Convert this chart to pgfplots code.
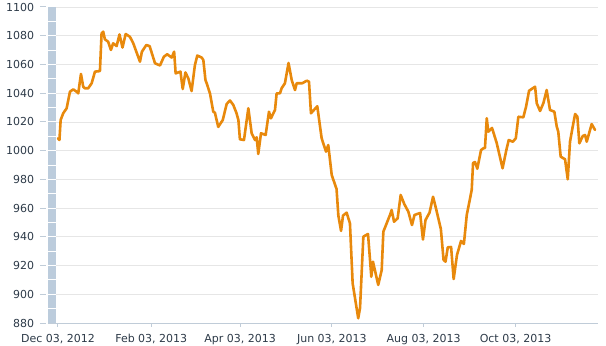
\documentclass[border=0pt]{standalone}
\usepackage{pgfplots}
\pgfplotsset{compat=1.18}
\usepackage{fontspec}
\setmainfont{DejaVu Sans}
\definecolor{lineor}{RGB}{232,137,12}
\definecolor{bandc}{RGB}{188,204,220}
\definecolor{gridc}{RGB}{230,230,230}
\definecolor{tickc}{RGB}{192,204,216}
\definecolor{labc}{RGB}{45,58,72}
\begin{document}
\begin{tikzpicture}[font=\fontsize{11bp}{13bp}\selectfont]
\begin{axis}[
  name=ax, scale only axis, width=550bp, height=316bp,
  xmin=-6.6, xmax=358.8, ymin=880, ymax=1100,
  axis x line*=bottom, axis y line*=left,
  y axis line style={draw=none},
  x axis line style={draw=tickc, line width=1bp},
  ytick={880,900,...,1100},
  xtick={0,62,121,182,243,304},
  xticklabels={{Dec 03, 2012},{Feb 03, 2013},{Apr 03, 2013},{Jun 03, 2013},{Aug 03, 2013},{Oct 03, 2013}},
  ymajorgrids, grid style={draw=gridc, line width=0.8bp},
  major tick length=0pt,
  tick label style={text=labc, inner sep=0pt},
  yticklabel style={anchor=east, xshift=-13.7bp},
  xticklabel style={anchor=north, yshift=-11bp},
  /pgf/number format/assume math mode=true,
  /pgf/number format/1000 sep={},
  clip mode=individual,
]
\fill[bandc] (axis cs:-6.6,880) rectangle (axis cs:-1.3,1100);
\pgfplotsinvokeforeach{890,900,...,1090}{
  \draw[white, line width=0.9bp] (axis cs:-6.6,#1) -- (axis cs:-1.3,#1);
}
\pgfplotsinvokeforeach{880,900,...,1100}{
  \draw[tickc, line width=1bp] ([xshift=-8bp]axis cs:-6.6,#1) -- ([xshift=-2bp]axis cs:-6.6,#1);
}
\pgfplotsinvokeforeach{0,62,121,182,243,304}{
  \draw[tickc, line width=1bp] (axis cs:#1,880) -- ([yshift=-4bp]axis cs:#1,880);
}
\addplot[lineor, line width=2.6bp, line join=round, line cap=round] coordinates {
(0,1008.6) (1,1007.4) (1.8,1021.3) (3.5,1026.0) (5.8,1029.5) (8.0,1041.0) (10.2,1042.7)
(12.4,1041.0) (13.5,1039.9) (15.3,1053.4) (16.8,1044.5) (17.9,1043.4) (20.1,1043.4)
(22.4,1046.9) (24.6,1055.0) (27.9,1055.4) (29.0,1081.7) (30.1,1082.8) (31.2,1077.5)
(33.4,1075.8) (35.2,1070.1) (36.7,1074.7) (39.0,1072.8) (40.9,1080.9) (42.9,1071.8)
(45.0,1081.2) (47.8,1079.3) (50.0,1074.9) (54.5,1061.9) (55.8,1068.9) (58.7,1073.5)
(60.9,1072.8) (64.5,1060.8) (67.8,1059.3) (70.4,1065.4) (72.6,1067.1) (75.6,1064.8)
(77.2,1068.9) (78.2,1053.8) (81.4,1055.0) (82.9,1042.9) (84.7,1054.4) (86.6,1050.4)
(88.8,1041.5) (91.0,1059.6) (92.6,1066.2) (95.5,1064.8) (96.6,1063.1) (98.0,1049.2)
(98.8,1046.9) (101.0,1039.9) (103.2,1027.1) (104.3,1026.4) (106.5,1016.5) (109.5,1021.3)
(112.1,1032.5) (114.3,1034.9) (116.5,1031.8) (118.6,1026.2) (119.9,1021.3) (120.9,1007.9)
(123.6,1007.4) (126.5,1029.5) (128.7,1012.1) (130.9,1007.4) (132.0,1009.3) (133.1,997.7)
(134.9,1012.1) (138.0,1010.9) (140.2,1027.1) (141.5,1022.5) (144.2,1028.3) (145.3,1039.9)
(147.5,1039.9) (148.6,1043.4) (150.8,1046.9) (153.2,1061.0) (155.3,1049.2) (157.5,1042.2)
(158.6,1046.9) (162.3,1046.9) (165.3,1048.7) (166.8,1048.0) (168.1,1026.0) (172.3,1030.9)
(175.2,1008.6) (178.1,999.3) (179.6,1003.9) (181.9,983.0) (185.1,973.3) (186.3,954.8)
(188.1,944.1) (189.4,954.8) (191.8,956.8) (194.0,949.4) (195.8,907.6) (199.5,883.3)
(200.7,890.4) (202.9,940.1) (206.0,942.0) (208.2,912.2) (209.3,922.7) (212.8,906.5)
(215.1,916.9) (216.2,943.6) (220.6,955.2) (221.7,958.7) (223.3,950.5) (225.7,952.9)
(227.7,969.1) (230.1,962.8) (232.8,957.5) (235.2,948.2) (236.9,955.2) (240.6,956.6)
(242.5,938.1) (244.2,951.7) (246.9,956.9) (249.2,967.9) (251.4,958.7) (254.4,945.4)
(256.2,923.9) (257.5,922.7) (259.0,932.7) (261.2,932.9) (262.9,910.6) (265.1,927.3)
(267.8,937.1) (269.7,935.0) (271.6,955.2) (274.9,972.6) (275.8,991.4) (277.1,992.1)
(278.6,987.4) (281.1,1000.4) (282.6,1001.6) (283.7,1001.8) (284.9,1022.5) (285.9,1013.2)
(288.4,1015.8) (291.5,1005.3) (295.4,987.7) (297.9,1000.4) (299.5,1007.4) (302.2,1006.2)
(304.2,1008.6) (305.9,1023.6) (309.2,1023.2) (311.0,1030.6) (313.0,1041.7) (317.0,1044.5)
(318.1,1033.0) (320.3,1027.6) (322.5,1033.0) (324.7,1042.2) (326.9,1028.3) (329.8,1027.1)
(331.4,1016.7) (332.4,1013.2) (334.0,995.8) (336.9,994.0) (338.7,980.0) (340.2,1006.2)
(342.0,1016.7) (343.6,1025.5) (345.1,1023.6) (346.4,1005.1) (348.7,1010.2) (350.2,1010.9)
(351.3,1006.2) (354.6,1018.5) (356.8,1014.4)
};
\end{axis}
\pgfresetboundingbox
\useasboundingbox ([xshift=-48bp,yshift=-23bp]ax.south west) rectangle ([xshift=8bp,yshift=7bp]ax.north east);
\end{tikzpicture}
\end{document}
